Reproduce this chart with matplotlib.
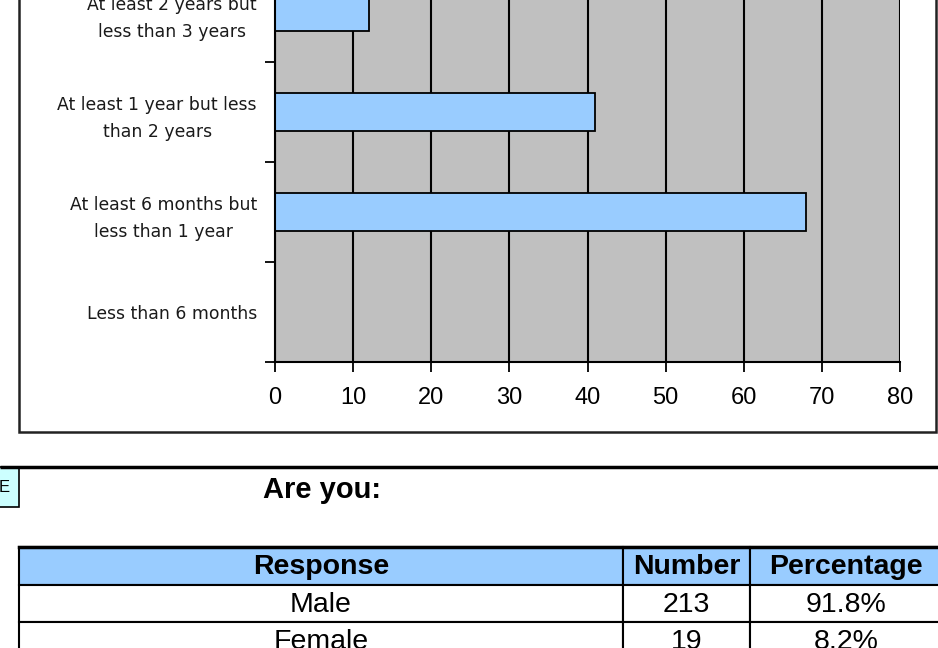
import matplotlib
matplotlib.use("Agg")
import matplotlib.pyplot as plt
from matplotlib.patches import Rectangle

# chart data (bottom to top)
categories = [
    "Less than 6 months",
    "At least 6 months but\nless than 1 year",
    "At least 1 year but less\nthan 2 years",
    "At least 2 years but\nless than 3 years",
]
counts = [0, 68, 41, 12]
x_ticks = [0, 10, 20, 30, 40, 50, 60, 70, 80]

# table data
question = "Are you:"
table_header = ["Response", "Number", "Percentage"]
responses = ["Male", "Female"]
numbers = [213, 19]
percentages = ["91.8%", "8.2%"]

BAR_C, PLOT_BG, HEAD_C, BOX_C = "#99CCFF", "#C0C0C0", "#99CCFF", "#CCFFFF"
W, H = 938, 648

fig = plt.figure(figsize=(W / 100, H / 100), dpi=100)
fig.patch.set_facecolor("white")

# overlay in pixel coordinates for the frame and the table
ov = fig.add_axes([0, 0, 1, 1], zorder=0)
ov.set_xlim(0, W)
ov.set_ylim(H, 0)
ov.axis("off")

ov.add_patch(Rectangle((19, -20), 917, 452, facecolor="white", edgecolor="#222222", lw=1.8))
ov.plot([0, W], [467, 467], color="black", lw=2.5, solid_capstyle="butt")
ov.add_patch(Rectangle((-6, 467), 25, 40, facecolor=BOX_C, edgecolor="black", lw=1.2))
ov.text(4, 487, "E", ha="center", va="center", fontsize=12, family="Liberation Sans")
ov.text(263, 490, question, ha="left", va="center", fontsize=21, fontweight="bold",
        family="Liberation Sans")

col_x = [19, 623, 750, 950]
row_y = [547, 585, 622, 660]
rows = [table_header] + [[r, str(n), p] for r, n, p in zip(responses, numbers, percentages)]
for i, row in enumerate(rows):
    for j, val in enumerate(row):
        x0, x1 = col_x[j], col_x[j + 1]
        y0, y1 = row_y[i], row_y[i + 1]
        ov.add_patch(Rectangle((x0, y0), x1 - x0, y1 - y0,
                               facecolor=HEAD_C if i == 0 else "white",
                               edgecolor="black", lw=1.5))
        ov.text((x0 + x1) / 2 if j < 2 else 846, (y0 + y1) / 2 + 1, val,
                ha="center", va="center", fontsize=20.5,
                fontweight="bold" if i == 0 else "normal", family="Liberation Sans")
ov.plot([19, W], [547, 547], color="black", lw=2.5)

# bar chart
ax = fig.add_axes([275 / W, (H - 362) / H, 625 / W, 400 / H], zorder=1)
ax.set_facecolor(PLOT_BG)
ypos = list(range(len(categories)))
ax.barh(ypos, counts, height=0.38, color=BAR_C, edgecolor="black", lw=1.3, zorder=3)
ax.set_xlim(0, 80)
ax.set_ylim(-0.5, len(categories) - 0.5)
ax.set_xticks(x_ticks)
ax.set_xticklabels([str(t) for t in x_ticks], family="Liberation Sans", fontsize=17)
ax.set_yticks([y - 0.5 for y in range(len(categories) + 1)])
ax.set_yticklabels([])
ax.set_yticks(ypos, minor=True)
ax.set_yticklabels(categories, minor=True, fontsize=12.4, family="DejaVu Sans",
                   ha="right", multialignment="center", linespacing=1.65, color="#1a1a1a")
ax.tick_params(axis="y", which="minor", length=0, pad=13)
ax.tick_params(axis="y", which="major", length=7, width=1.3, direction="out")
ax.tick_params(axis="x", length=7, width=1.3, direction="out", pad=11)
ax.grid(axis="x", color="black", lw=1.5, zorder=1)
ax.set_axisbelow(True)
for s in ("top", "right"):
    ax.spines[s].set_visible(False)
for s in ("left", "bottom"):
    ax.spines[s].set_color("black")
    ax.spines[s].set_linewidth(1.5)
    ax.spines[s].set_zorder(4)

fig.savefig("out.png", dpi=100)
